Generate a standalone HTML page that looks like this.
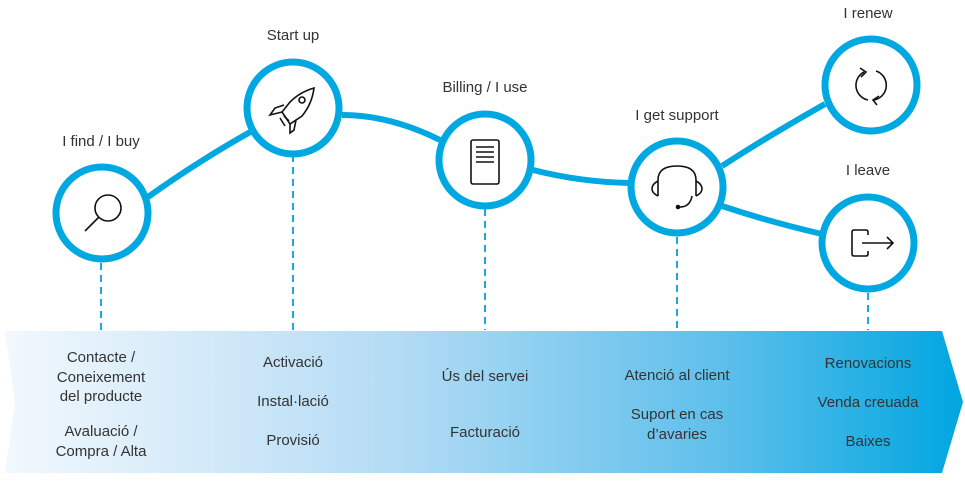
<!DOCTYPE html>
<html><head><meta charset="utf-8"><style>
html,body{margin:0;padding:0;background:#fff;}
body{width:965px;height:478px;overflow:hidden;}
svg text{font-family:"Liberation Sans",sans-serif;fill:#333;}
</style></head><body>
<svg width="965" height="478" viewBox="0 0 965 478" xmlns="http://www.w3.org/2000/svg">
<defs>
<linearGradient id="g" x1="0" x2="1" y1="0" y2="0">
<stop offset="0" stop-color="#f2f8fd"/>
<stop offset="0.4" stop-color="#b5dcf5"/>
<stop offset="0.75" stop-color="#5dbfeb"/>
<stop offset="1" stop-color="#00a6e0"/>
</linearGradient>
</defs>
<polygon points="5,331 942,331 963,402 942,473 5,473 15,402" fill="url(#g)"/>
<g stroke="#1aa9e3" stroke-width="2" stroke-dasharray="7,5">
<line x1="101" y1="263" x2="101" y2="330"/>
<line x1="293" y1="155" x2="293" y2="330"/>
<line x1="485" y1="209" x2="485" y2="330"/>
<line x1="677" y1="237" x2="677" y2="330"/>
<line x1="868" y1="293" x2="868" y2="330"/>
</g>
<g fill="none" stroke="#00a8e1" stroke-width="6">
<path d="M148,197 Q200,160 252,131"/>
<path d="M342,115 Q390,115 440,140"/>
<path d="M533,170 Q580,182 630,183"/>
<path d="M722,166 Q770,135 825,104"/>
<path d="M722,206 Q770,222 822,234"/>
</g>
<g fill="#fff" stroke="#00a8e1" stroke-width="7">
<circle cx="102" cy="213" r="46"/>
<circle cx="293" cy="108" r="46"/>
<circle cx="485" cy="160" r="46"/>
<circle cx="677" cy="187" r="46"/>
<circle cx="871" cy="85" r="46"/>
<circle cx="868" cy="243" r="46"/>
</g>
<g fill="none" stroke="#111" stroke-width="1.6">
<circle cx="108" cy="208" r="13"/><line x1="99" y1="217" x2="85" y2="231"/>
<path d="M314,88 Q300,92 290,102 L282,112 L290,124 L302,116 Q312,104 314,88 Z"/>
<circle cx="302" cy="100" r="3"/>
<path d="M284,105 L275,108 L270,115 L282,112"/><path d="M296,120 L294,130 L290,133 L290,124"/>
<path d="M280,118 L285,126 M284,116 L289,121"/>
<rect x="471" y="140" width="28" height="44" rx="2"/>
<path d="M476,147 H494 M476,152 H494 M476,157 H494 M476,162 H494"/>
<path d="M658,196 V180 Q658,166 677,166 Q696,166 696,180 V196"/>
<path d="M658,181 Q652,184 652,189 Q652,193 658,196"/><path d="M696,181 Q702,184 702,189 Q702,193 696,196"/>
<path d="M692,196 Q690,207 680,207"/><circle cx="678" cy="207" r="1.5" fill="#111"/>
<path d="M864,72 A15,15 0 0 0 868,100 M876,71 A15,15 0 0 1 874,100"/>
<path d="M860,68 L866,72 L861,77 M879,96 L873,100 L877,105"/>
<path d="M868,235 V232 Q868,230 866,230 H854 Q852,230 852,232 V254 Q852,256 854,256 H866 Q868,256 868,254 V251"/>
<path d="M862,243 H893 M887,237 L893,243 L887,249"/>
</g>
<g font-size="15" text-anchor="middle">
<text x="101" y="146">I find / I buy</text>
<text x="293" y="40">Start up</text>
<text x="485" y="92">Billing / I use</text>
<text x="677" y="120">I get support</text>
<text x="868" y="18">I renew</text>
<text x="868" y="175">I leave</text>
<text x="101" y="362">Contacte /</text>
<text x="101" y="382">Coneixement</text>
<text x="101" y="401">del producte</text>
<text x="101" y="436">Avaluació /</text>
<text x="101" y="456">Compra / Alta</text>
<text x="293" y="367">Activació</text>
<text x="293" y="406">Instal·lació</text>
<text x="293" y="445">Provisió</text>
<text x="485" y="381">Ús del servei</text>
<text x="485" y="437">Facturació</text>
<text x="677" y="380">Atenció al client</text>
<text x="677" y="419">Suport en cas</text>
<text x="677" y="439">d’avaries</text>
<text x="868" y="368">Renovacions</text>
<text x="868" y="407">Venda creuada</text>
<text x="868" y="446">Baixes</text>
</g>
</svg>
</body></html>
